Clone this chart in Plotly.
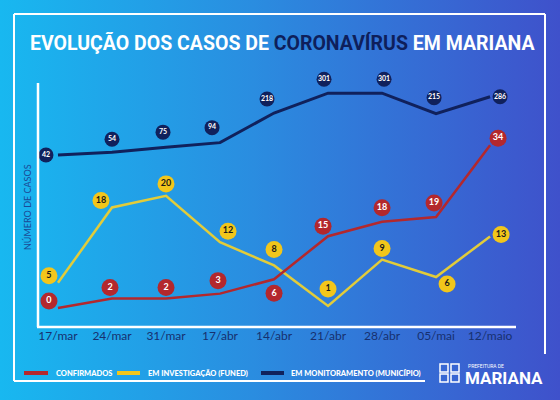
import plotly.graph_objects as go

# dados do gráfico
datas = ["17/mar", "24/mar", "31/mar", "17/abr", "14/abr", "21/abr", "28/abr", "05/mai", "12/maio"]
confirmados = [0, 2, 2, 3, 6, 15, 18, 19, 34]
investigacao = [5, 18, 20, 12, 8, 1, 9, 6, 13]
monitoramento = [42, 54, 75, 94, 218, 301, 301, 215, 286]
nomes = ["CONFIRMADOS", "EM INVESTIGAÇÃO (FUNED)", "EM MONITORAMENTO (MUNICÍPIO)"]

# estilo
W, H = 560, 400
PLOT_TOP, PLOT_BOT = 60, 327          # px
X_RANGE = [-0.37, 8.48]
X_DOM = [38 / W, 516 / W]
Y_DOM = [1 - PLOT_BOT / H, 1 - PLOT_TOP / H]
RANGE_MON = [-678, 440]
RANGE_INV = [-2.63, 43.45]
RANGE_CONF = [-3.97, 51.8]

NAVY = "#10215c"
RED = "#b3282d"
YELLOW = "#f2c61b"
LINE_YELLOW = "#e2cc3a"

# deslocamento (px) dos círculos com os valores em relação ao vértice
off_mon = [(-12, 0), (0, -13), (-3, -15), (-8, -15), (-7, -14), (-4, -14), (2, -14), (-2, -16), (10, 0)]
off_inv = [(-9, -7), (-11, -7), (0, -12), (8, -11), (0, -16), (0, -17), (0, -11), (11, 7), (11, -2)]
off_conf = [(-9, -7), (-2, -11), (0, -11), (-2, -13), (0, 14), (-5, -10), (0, -14), (-2, -14), (8, -7)]

x_idx = list(range(len(datas)))
px_x = (X_DOM[1] - X_DOM[0]) * W / (X_RANGE[1] - X_RANGE[0])


def label_pos(values, offsets, yrange):
    px_y = (PLOT_BOT - PLOT_TOP) / (yrange[1] - yrange[0])
    xs = [i + dx / px_x for i, (dx, dy) in zip(x_idx, offsets)]
    ys = [v - dy / px_y for v, (dx, dy) in zip(values, offsets)]
    return xs, ys


def px(x, y):
    return x / W, 1 - y / H


fig = go.Figure()

# fundo em degradê
fig.add_trace(go.Scatter(
    x=[0, 1, 1, 0, 0], y=[0, 0, 1, 1, 0], mode="none", fill="toself",
    fillgradient=dict(type="horizontal",
                      colorscale=[[0, "#18b8f0"], [0.45, "#2a8de0"], [1, "#3f51cb"]]),
    showlegend=False, hoverinfo="skip", xaxis="x", yaxis="y"))

series = [
    (nomes[0], confirmados, off_conf, RANGE_CONF, "y4", RED, RED, "white", 2.5),
    (nomes[1], investigacao, off_inv, RANGE_INV, "y3", LINE_YELLOW, YELLOW, "#1a1a1a", 2.5),
    (nomes[2], monitoramento, off_mon, RANGE_MON, "y2", NAVY, NAVY, "white", 3),
]

for name, vals, offs, yr, yax, lcol, ccol, tcol, lw in series:
    fig.add_trace(go.Scatter(
        x=x_idx, y=vals, mode="lines", name=name,
        line=dict(color=lcol, width=lw), cliponaxis=False,
        xaxis="x2", yaxis=yax, hoverinfo="skip", showlegend=False))

for name, vals, offs, yr, yax, lcol, ccol, tcol, lw in series:
    lx, ly = label_pos(vals, offs, yr)
    small = yax == "y2"
    fig.add_trace(go.Scatter(
        x=lx, y=ly, mode="markers+text", text=[str(v) for v in vals],
        textposition="middle center", cliponaxis=False,
        textfont=dict(family="Lato", size=7 if small else 9, color=tcol, weight="bold"),
        marker=dict(size=15 if small else 17, color=ccol, line=dict(width=0)),
        xaxis="x2", yaxis=yax, showlegend=False, hoverinfo="skip"))


def hline(x0, x1, y, width=2, color="white"):
    a, b = px(x0, y)
    c, _ = px(x1, y)
    return dict(type="line", xref="paper", yref="paper", x0=a, x1=c, y0=b, y1=b,
                line=dict(color=color, width=width))


def vline(x, y0, y1, width=2):
    a, b = px(x, y0)
    _, d = px(x, y1)
    return dict(type="line", xref="paper", yref="paper", x0=a, x1=a, y0=b, y1=d,
                line=dict(color="white", width=width))


shapes = [
    # moldura
    hline(14, 545, 14), vline(14, 14, 381), vline(545, 14, 354), hline(14, 425, 381),
    # eixos
    vline(38, 83, 327, 2.5), hline(37, 516, 327, 2.5),
]

# ícone da prefeitura (simplificado)
for cx in (440, 451):
    for cy in (364, 374):
        x0, y0 = px(cx, cy + 8)
        x1, y1 = px(cx + 8, cy)
        shapes.append(dict(type="rect", xref="paper", yref="paper", x0=x0, x1=x1, y0=y0, y1=y1,
                           line=dict(color="white", width=1.5), fillcolor="rgba(0,0,0,0)"))


def note(text, x, y, font, xanchor="center", **kw):
    a, b = px(x, y)
    return dict(text=text, x=a, y=b, xref="paper", yref="paper", xanchor=xanchor,
                yanchor="middle", showarrow=False, font=font, **kw)


annotations = [
    note("<b>EVOLUÇÃO DOS CASOS DE <span style='color:#0e1f5b'>CORONAVÍRUS</span> EM MARIANA</b>",
         282, 43, dict(family="Roboto", size=19.5, color="white", weight=900)),
    note("NÚMERO DE CASOS", 28, 207, dict(family="Lato", size=9, color="#1b4a96"), textangle=-90),
    note("PREFEITURA DE", 466, 366, dict(family="Roboto", size=5, color="white"), xanchor="left"),
    note("<b>MARIANA</b>", 463, 378, dict(family="Roboto", size=17, color="white"), xanchor="left"),
]

# legenda desenhada à mão
leg_x = [(24, 48, 54), (117, 140, 146), (261, 284, 289)]
leg_cols = [RED, YELLOW, NAVY]
for (s0, s1, tx), col, nome in zip(leg_x, leg_cols, nomes):
    shapes.append(hline(s0, s1, 373, width=4, color=col))
    annotations.append(note(nome, tx, 373, dict(family="Lato", size=7.5, color="white", weight=900),
                            xanchor="left"))

hidden = dict(visible=False, showgrid=False, zeroline=False)
fig.update_layout(
    width=W, height=H,
    margin=dict(l=0, r=0, t=0, b=0),
    paper_bgcolor="#2a8de0",
    plot_bgcolor="rgba(0,0,0,0)",
    showlegend=False,
    xaxis=dict(domain=[0, 1], range=[0, 1], **hidden),
    yaxis=dict(domain=[0, 1], range=[0, 1], **hidden),
    xaxis2=dict(domain=X_DOM, range=X_RANGE, anchor="y2", tickmode="array",
                tickvals=x_idx, ticktext=datas, showgrid=False, zeroline=False, showline=False,
                ticks="", tickfont=dict(family="Lato", size=12, color="#17306f")),
    yaxis2=dict(domain=Y_DOM, range=RANGE_MON, anchor="x2", **hidden),
    yaxis3=dict(domain=Y_DOM, range=RANGE_INV, overlaying="y2", anchor="x2", **hidden),
    yaxis4=dict(domain=Y_DOM, range=RANGE_CONF, overlaying="y2", anchor="x2", **hidden),
    shapes=shapes,
    annotations=annotations,
)

fig.write_html("out.html", config={"displayModeBar": False},
               post_script="document.body.style.margin='0';")
